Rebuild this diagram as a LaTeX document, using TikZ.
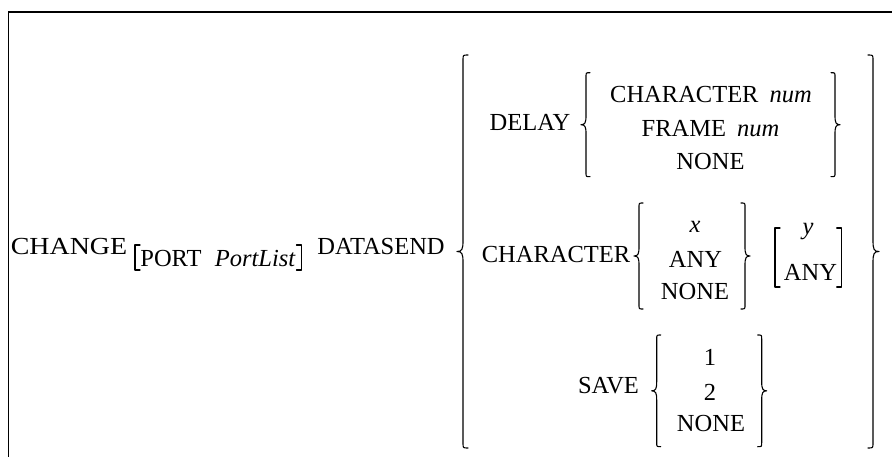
\documentclass[tikz,border=0pt]{standalone}
\usepackage{fontspec}
\usepackage{graphicx}
\setmainfont{Liberation Serif}
\def\bd{5}\def\bh{9}\def\bk{4}
\newcommand{\lbrc}[3]{% x, top, bottom
  \draw[brc] (#1+\bk,#2) .. controls (#1,#2) .. (#1,#2+\bk) -- (#1,{(#2+#3)/2-\bh})
    .. controls (#1,{(#2+#3)/2-2}) and (#1-1,{(#2+#3)/2}) .. (#1-\bd,{(#2+#3)/2})
    .. controls (#1-1,{(#2+#3)/2}) and (#1,{(#2+#3)/2+2}) .. (#1,{(#2+#3)/2+\bh}) -- (#1,#3-\bk)
    .. controls (#1,#3) .. (#1+\bk,#3);}
\newcommand{\rbrc}[3]{% x, top, bottom
  \draw[brc] (#1-\bk,#2) .. controls (#1,#2) .. (#1,#2+\bk) -- (#1,{(#2+#3)/2-\bh})
    .. controls (#1,{(#2+#3)/2-2}) and (#1+1,{(#2+#3)/2}) .. (#1+\bd,{(#2+#3)/2})
    .. controls (#1+1,{(#2+#3)/2}) and (#1,{(#2+#3)/2+2}) .. (#1,{(#2+#3)/2+\bh}) -- (#1,#3-\bk)
    .. controls (#1,#3) .. (#1-\bk,#3);}
\newcommand{\lsq}[3]{\draw[brc] (#1+5,#2) -- (#1,#2) -- (#1,#3) -- (#1+5,#3);}
\newcommand{\rsq}[3]{\draw[brc] (#1-5,#2) -- (#1,#2) -- (#1,#3) -- (#1-5,#3);}
\begin{document}
\begin{tikzpicture}[x=1pt,y=-1pt,
  brc/.style={line width=1.1pt, line join=round, line cap=round},
  txt/.style={inner sep=0pt, anchor=base, font=\fontsize{24.5}{29}\selectfont},
  frame/.style={line width=1.3pt}]
\useasboundingbox (0,0) rectangle (892,457);
% frame (top and left sides only)
\draw[frame] (8.5,457) -- (8.5,12) -- (892,12);
% main line
\node[txt] (change) at (69,255) {\scalebox{1.14}[1]{CHANGE}};
\node[txt] (port) at (171,266.7) {PORT};
\node[txt] (portlist) at (255,266.7) {\itshape PortList};
\node[txt] (datasend) at (381,255) {DATASEND};
\lsq{135}{245}{270}
\rsq{301.5}{245}{270}
% big braces
\def\bd{6}\def\bh{11}\def\bk{5}
\lbrc{463}{55}{448}
\rbrc{873}{55}{448}
\def\bd{5}\def\bh{9}\def\bk{4}
% DELAY group
\node[txt] (delay) at (530,131) {DELAY};
\lbrc{586}{72.7}{176.7}
\rbrc{835}{72.7}{176.7}
\node[txt] (dchar) at (711,103) {CHARACTER\hspace{0.45em}\itshape num};
\node[txt] (dframe) at (710.5,136.7) {FRAME\hspace{0.45em}\itshape num};
\node[txt] (dnone) at (710.5,170) {NONE};
% CHARACTER group
\node[txt] (cchar) at (556,262) {CHARACTER};
\lbrc{639}{203}{309}
\rbrc{745}{203}{309}
\node[txt] (cx) at (695,233) {\itshape x};
\node[txt] (cany) at (695.5,268) {ANY};
\node[txt] (cnone) at (695,300) {NONE};
\lsq{775}{228}{287}
\rsq{841.7}{228}{287}
\node[txt] (cy) at (808,235) {\itshape y};
\node[txt] (cany2) at (810.5,280) {ANY};
% SAVE group
\node[txt] (save) at (608.5,393) {SAVE};
\lbrc{656.7}{335}{446.7}
\rbrc{761.7}{335}{446.7}
\node[txt] (sone) at (710,365) {1};
\node[txt] (stwo) at (710,400) {2};
\node[txt] (snone) at (711,431.7) {NONE};
\end{tikzpicture}
\end{document}
